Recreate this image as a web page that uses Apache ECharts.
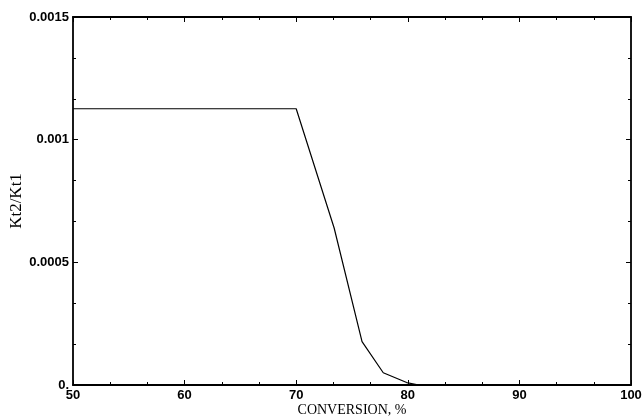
<!DOCTYPE html>
<html>
<head>
<meta charset="utf-8">
<script src="https://cdn.jsdelivr.net/npm/echarts@6/dist/echarts.min.js"></script>
<style>html,body{margin:0;padding:0;background:#fff;}#c{width:643px;height:420px;}</style>
</head>
<body>
<div id="c"></div>
<script>
// Data
const conversion = [50, 70, 73.4, 75.9, 77.8, 79.9, 81, 100];
const ratio = [0.001126, 0.001126, 0.00064, 0.000177, 0.00005, 0.00001, 0, 0];
const xTickValues = [50, 60, 70, 80, 90, 100];
const yTickValues = [0, 0.0005, 0.001, 0.0015];
const yTickLabels = ['0.', '0.0005', '0.001', '0.0015'];
const xTitle = 'CONVERSION, %';
const yTitle = 'Kt2/Kt1';

const pts = conversion.map((x, i) => [x, ratio[i]]);
const yLabelMap = {};
yTickValues.forEach((v, i) => { yLabelMap[v.toFixed(4)] = yTickLabels[i]; });

const axisLineStyle = { color: '#000', width: 1.8 };
const tickStyle = { color: '#000', width: 1 };
const labelFont = { fontFamily: 'Liberation Sans, Arial, sans-serif', fontWeight: 'bold', fontSize: 13, color: '#000' };

function xAx(pos, showLabel) {
  return {
    type: 'value', position: pos, min: 50, max: 100, interval: 10,
    name: showLabel ? xTitle : '', nameLocation: 'middle', nameGap: 18, nameMoveOverlap: false,
    nameTextStyle: { fontFamily: 'Liberation Serif, Times New Roman, serif', fontSize: 14, color: '#000' },
    axisLine: { show: true, onZero: false, lineStyle: axisLineStyle },
    axisTick: { show: true, inside: true, length: 5, lineStyle: tickStyle },
    minorTick: { show: true, splitNumber: 3, length: 3, lineStyle: tickStyle },
    axisLabel: Object.assign({ show: showLabel, margin: 4 }, labelFont),
    splitLine: { show: false }
  };
}
function yAx(pos, showLabel) {
  return {
    type: 'value', position: pos, min: 0, max: 0.0015, interval: 0.0005,
    name: showLabel ? yTitle : '', nameLocation: 'middle', nameGap: 48, nameMoveOverlap: false,
    nameTextStyle: { fontFamily: 'Liberation Serif, Times New Roman, serif', fontSize: 17, color: '#000' },
    axisLine: { show: true, onZero: false, lineStyle: axisLineStyle },
    axisTick: { show: true, inside: true, length: 5, lineStyle: tickStyle },
    minorTick: { show: true, splitNumber: 3, length: 3, lineStyle: tickStyle },
    axisLabel: Object.assign({ show: showLabel, margin: 4, formatter: v => yLabelMap[v.toFixed(4)] || '' }, labelFont),
    splitLine: { show: false }
  };
}

const chart = echarts.init(document.getElementById('c'), null, { renderer: 'canvas' });
chart.setOption({
  animation: false,
  backgroundColor: '#fff',
  grid: { left: 73, right: 12, top: 17, bottom: 35, containLabel: false, outerBoundsMode: 'none' },
  xAxis: [xAx('bottom', true), xAx('top', false)],
  yAxis: [yAx('left', true), yAx('right', false)],
  series: [{
    type: 'line', xAxisIndex: 0, yAxisIndex: 0, data: pts,
    showSymbol: false, symbol: 'none',
    lineStyle: { color: '#000', width: 1.2 }
  }]
});
</script>
</body>
</html>
